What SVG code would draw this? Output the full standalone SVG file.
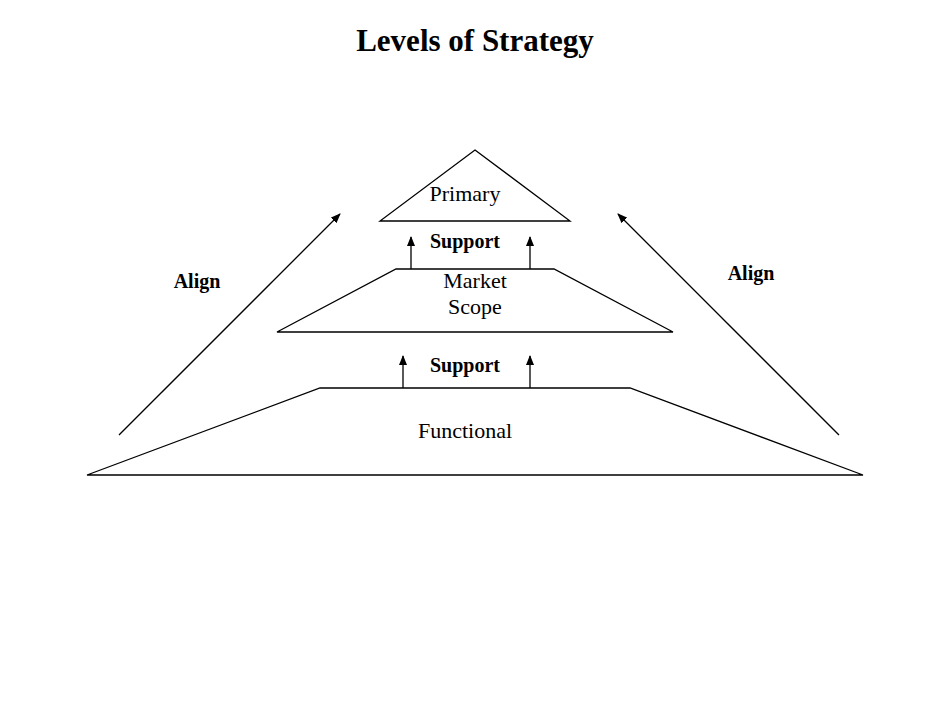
<svg xmlns="http://www.w3.org/2000/svg" width="950" height="713" viewBox="0 0 950 713">
<style>
.s{fill:none;stroke:#000;stroke-width:1.3}
.t{font-family:"Liberation Serif",serif;font-size:22px;text-anchor:middle;fill:#000}
.b{font-family:"Liberation Serif",serif;font-size:20px;font-weight:bold;text-anchor:middle;fill:#000}
</style>
<defs><marker id="a" markerWidth="10" markerHeight="8" refX="9" refY="4" orient="auto" markerUnits="userSpaceOnUse"><path d="M0,0 L10,4 L0,8 Z" fill="#000"/></marker></defs>
<rect width="950" height="713" fill="#fff"/>
<text x="475" y="51" class="b" style="font-size:31px">Levels of Strategy</text>
<g id="primary"><path class="s" d="M475,150 L570,221 L380,221 Z"/><text x="465" y="201" class="t">Primary</text></g>
<g id="market"><path class="s" d="M396,269 L554,269 L673,332 L277,332 Z"/><text x="475" y="288" class="t">Market</text><text x="475" y="314" class="t">Scope</text></g>
<g id="functional"><path class="s" d="M320,388 L630,388 L863,475 L87,475 Z"/><text x="465" y="438" class="t">Functional</text></g>
<g id="labels"><text x="465" y="248" class="b">Support</text><text x="465" y="372" class="b">Support</text><text x="197" y="288" class="b">Align</text><text x="751" y="280" class="b">Align</text></g>
<g id="connectors" class="s" marker-end="url(#a)">
<line x1="411" y1="269" x2="411" y2="237" marker-end="url(#a)"/>
<line x1="530" y1="269" x2="530" y2="237" marker-end="url(#a)"/>
<line x1="403" y1="388" x2="403" y2="356" marker-end="url(#a)"/>
<line x1="530" y1="388" x2="530" y2="356" marker-end="url(#a)"/>
<line x1="119" y1="435" x2="340" y2="214" marker-end="url(#a)"/>
<line x1="839" y1="435" x2="618" y2="214" marker-end="url(#a)"/>
</g>
</svg>
